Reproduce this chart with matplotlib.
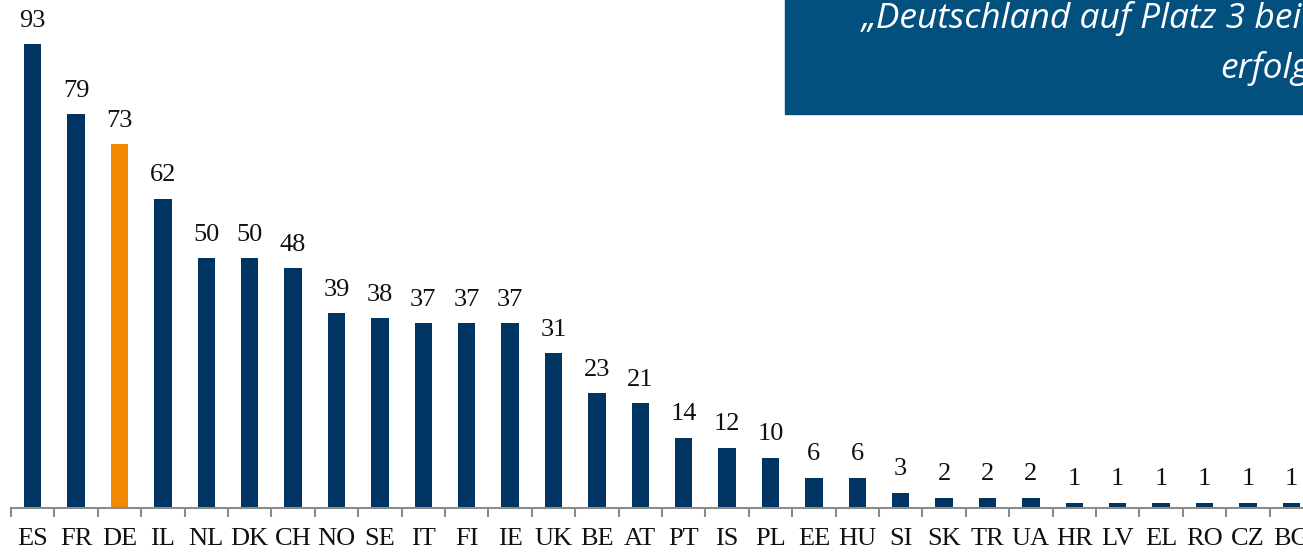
import matplotlib.pyplot as plt
import numpy as np

countries = ['ES', 'FR', 'DE', 'IL', 'NL', 'DK', 'CH', 'NO', 'SE', 'IT',
             'FI', 'IE', 'UK', 'BE', 'AT', 'PT', 'IS', 'PL', 'EE', 'HU',
             'SI', 'SK', 'TR', 'UA', 'HR', 'LV', 'EL', 'RO', 'CZ', 'BG']
values = [93, 79, 73, 62, 50, 50, 48, 39, 38, 37,
          37, 37, 31, 23, 21, 14, 12, 10, 6, 6,
          3, 2, 2, 2, 1, 1, 1, 1, 1, 1]
highlight = 'DE'

navy = '#003462'
orange = '#F28800'
colors = [orange if c == highlight else navy for c in countries]

fig = plt.figure(figsize=(13.03, 5.53), dpi=100)
ax = fig.add_axes([11 / 1303, 45.5 / 553, 1302 / 1303, 507.5 / 553])

x = np.arange(len(countries))
ax.bar(x, values, width=0.4, color=colors)
ax.set_xlim(-0.5, len(countries) - 0.5)
ax.set_ylim(0, 101.9)

for xi, v in zip(x, values):
    ax.annotate(str(v), (xi, v), xytext=(0, 12.5), textcoords='offset points',
                ha='center', va='baseline', fontsize=19,
                family='Liberation Serif', color='#111111')

for s in ['top', 'left', 'right']:
    ax.spines[s].set_visible(False)
ax.spines['bottom'].set_color('#8c8c8c')
ax.spines['bottom'].set_linewidth(1.5)
ax.set_yticks([])
ax.set_xticks(x)
ax.set_xticklabels(countries, fontsize=19, family='Liberation Serif', color='#111111')
ax.set_xticks(np.arange(-0.5, len(countries)), minor=True)
ax.tick_params(axis='x', which='major', length=0, pad=15)
ax.tick_params(axis='x', which='minor', length=6.5, width=1.5, color='#8c8c8c')

# title box in top right corner (cropped in the original)
box = plt.Rectangle((785 / 1303, 1 - 114 / 553), 0.5, 0.3, transform=fig.transFigure,
                    color='#03507F', zorder=0)
fig.patches.append(box)
fig.text(862 / 1303, 1 - 28 / 553, '„Deutschland auf Platz 3 bei', color='white',
         fontsize=25.5, style='italic', family='Open Sans', ha='left', va='baseline')
fig.text(1220 / 1303, 1 - 78 / 553, 'erfolgreich', color='white',
         fontsize=25.5, style='italic', family='Open Sans', ha='left', va='baseline')

fig.savefig('out.png', dpi=100)
